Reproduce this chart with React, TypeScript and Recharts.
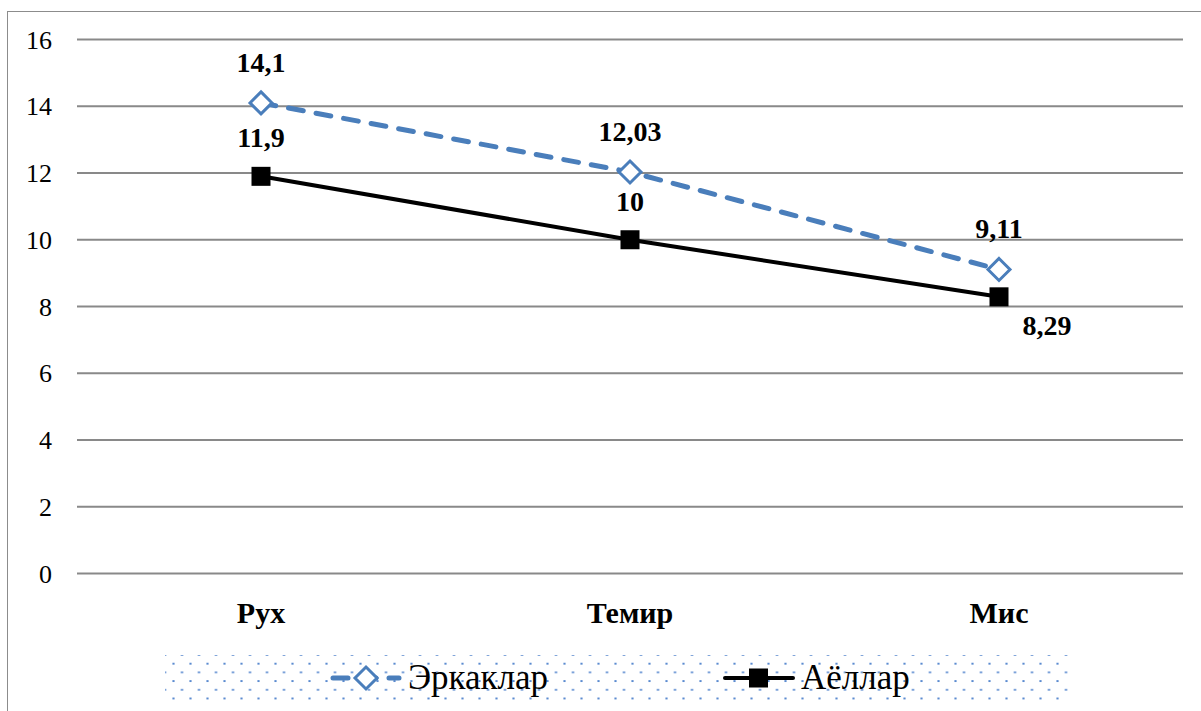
import React from "react";
import { LineChart, Line, XAxis, YAxis, CartesianGrid, LabelList } from "recharts";

const categories = ["Рух", "Темир", "Мис"];
const erkaklar = [14.1, 12.03, 9.11];
const ayollar = [11.9, 10, 8.29];
const yTicks = [0, 2, 4, 6, 8, 10, 12, 14, 16];

const BLUE = "#4a7ebb";
const GRID = "#898989";
const FONT = "'Liberation Serif', 'Times New Roman', serif";

const data = categories.map((name, i) => ({
    name,
    erkaklar: erkaklar[i],
    ayollar: ayollar[i],
}));

const fmt = (v: number) => String(v).replace(".", ",");

// hollow diamond for the men's series
const DiamondDot = (props: any) => {
    const { cx, cy } = props;
    if (cx == null || cy == null) return null;
    const r = 11;
    return (
        <path
            d={`M${cx},${cy - r} L${cx + r},${cy} L${cx},${cy + r} L${cx - r},${cy} Z`}
            fill="#fff"
            stroke={BLUE}
            strokeWidth={3}
        />
    );
};

const SquareDot = (props: any) => {
    const { cx, cy } = props;
    if (cx == null || cy == null) return null;
    return <rect x={cx - 9.5} y={cy - 9.5} width={19} height={19} fill="#000" />;
};

const ErkLabel = (props: any) => {
    const { x, y, value } = props;
    return (
        <text x={x} y={y - 31} textAnchor="middle" fontFamily={FONT} fontSize={28} fontWeight={700} fill="#000">
            {fmt(value)}
        </text>
    );
};

const AyolLabel = (props: any) => {
    const { x, y, value, index } = props;
    // last point label sits below-right of the marker
    const below = index === ayollar.length - 1;
    return (
        <text
            x={below ? x + 48 : x}
            y={below ? y + 38 : y - 29}
            textAnchor="middle"
            fontFamily={FONT}
            fontSize={28}
            fontWeight={700}
            fill="#000"
        >
            {fmt(value)}
        </text>
    );
};

export default function App() {
    return (
        <div
            style={{
                position: "absolute",
                left: 0,
                top: 0,
                width: 1201,
                height: 711,
                overflow: "hidden",
                background: "#fff",
                fontFamily: FONT,
            }}
        >
            {/* outer chart frame */}
            <div
                style={{
                    position: "absolute",
                    left: 7,
                    top: 11,
                    width: 1300,
                    height: 800,
                    border: "1.5px solid #8c8c8c",
                }}
            />
            <div style={{ position: "absolute", left: 0, top: 0 }}>
                <LineChart
                    width={1201}
                    height={711}
                    data={data}
                    margin={{ top: 39.5, right: 18, bottom: 97.5, left: 0 }}
                >
                    <CartesianGrid vertical={false} stroke={GRID} strokeWidth={2} />
                    <XAxis
                        dataKey="name"
                        axisLine={false}
                        tickLine={false}
                        tickSize={0}
                        tickMargin={28}
                        height={40}
                        padding={{ left: 184, right: 184 }}
                        tick={{ fontFamily: FONT, fontSize: 30, fontWeight: 700, fill: "#000" }}
                    />
                    <YAxis
                        domain={[0, 16]}
                        ticks={yTicks}
                        axisLine={false}
                        tickLine={false}
                        tickSize={0}
                        tickMargin={25}
                        width={77}
                        tick={{ fontFamily: FONT, fontSize: 26, fill: "#000" }}
                    />
                    <Line
                        dataKey="erkaklar"
                        stroke={BLUE}
                        strokeWidth={5}
                        strokeDasharray="15 13"
                        strokeLinecap="round"
                        dot={<DiamondDot />}
                        activeDot={false}
                        isAnimationActive={false}
                    >
                        <LabelList dataKey="erkaklar" content={<ErkLabel />} />
                    </Line>
                    <Line
                        dataKey="ayollar"
                        stroke="#000"
                        strokeWidth={4}
                        dot={<SquareDot />}
                        activeDot={false}
                        isAnimationActive={false}
                    >
                        <LabelList dataKey="ayollar" content={<AyolLabel />} />
                    </Line>
                </LineChart>
            </div>
            {/* legend box with dotted fill */}
            <div
                style={{
                    position: "absolute",
                    left: 165,
                    top: 655,
                    width: 907,
                    height: 46,
                    backgroundImage:
                        "radial-gradient(circle, #5b8bd0 0.9px, transparent 1.4px), radial-gradient(circle, #5b8bd0 0.9px, transparent 1.4px)",
                    backgroundSize: "17px 17.4px",
                    backgroundPosition: "0 0, 8.5px 8.7px",
                    fontFamily: FONT,
                    fontSize: 35,
                    color: "#000",
                }}
            >
                <div style={{ position: "absolute", left: 165, top: 8, display: "flex", alignItems: "center" }}>
                    <svg width={72} height={30} style={{ marginRight: 6 }}>
                        <line
                            x1={3}
                            y1={15}
                            x2={69}
                            y2={15}
                            stroke={BLUE}
                            strokeWidth={5}
                            strokeDasharray="15 13"
                            strokeLinecap="round"
                        />
                        <path d="M36,4 L47,15 L36,26 L25,15 Z" fill="#fff" stroke={BLUE} strokeWidth={3} />
                    </svg>
                    <span style={{ lineHeight: "30px" }}>Эркаклар</span>
                </div>
                <div style={{ position: "absolute", left: 558, top: 8, display: "flex", alignItems: "center" }}>
                    <svg width={72} height={30} style={{ marginRight: 6 }}>
                        <line x1={2} y1={15} x2={70} y2={15} stroke="#000" strokeWidth={4} strokeLinecap="round" />
                        <rect x={26} y={5.5} width={19} height={19} fill="#000" />
                    </svg>
                    <span style={{ lineHeight: "30px" }}>Аёллар</span>
                </div>
            </div>
        </div>
    );
}
